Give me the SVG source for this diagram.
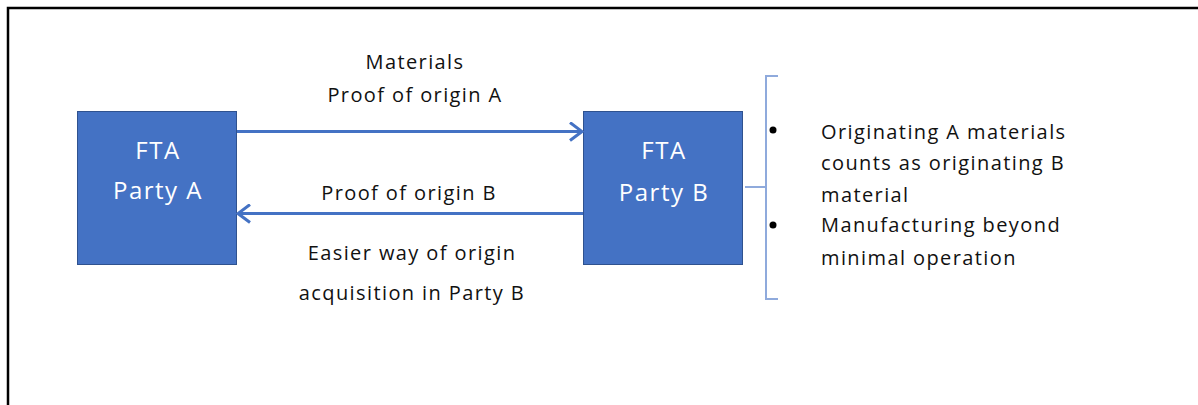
<svg xmlns="http://www.w3.org/2000/svg" width="1198" height="405" viewBox="0 0 1198 405">
  <defs>
    <style>
      .frame { fill: none; stroke: #000; stroke-width: 2.5; }
      .party rect { fill: #4472C4; stroke: #2F528F; stroke-width: 1; }
      .party text { fill: #fff; font-family: "Open Sans", "Liberation Sans", sans-serif; font-size: 24px; letter-spacing: 1.5px; text-anchor: middle; }
      .flow { fill: none; stroke: #4472C4; stroke-width: 3; }
      .brace { fill: none; stroke: #8FAADC; stroke-width: 2; }
      .label { fill: #111; font-family: "Open Sans", "Liberation Sans", sans-serif; font-size: 20px; letter-spacing: 1.4px; }
      .mid { text-anchor: middle; }
    </style>
    <marker id="chevron" viewBox="0 0 16 20" refX="14" refY="10" markerWidth="16" markerHeight="20" markerUnits="userSpaceOnUse" orient="auto">
      <path d="M2,1 L14,10 L2,19" fill="none" stroke="#4472C4" stroke-width="3"/>
    </marker>
  </defs>

  <rect width="1198" height="405" fill="#fff"/>
  <!-- open frame: top and left edges only -->
  <path class="frame" d="M8,405 V8 H1198"/>

  <g id="party-a" class="party">
    <rect x="77.5" y="111.5" width="159" height="153"/>
    <text x="158" y="159">FTA</text>
    <text x="158" y="199">Party A</text>
  </g>

  <g id="party-b" class="party">
    <rect x="583.5" y="111.5" width="159" height="153"/>
    <text x="664" y="159">FTA</text>
    <text x="664" y="201">Party B</text>
  </g>

  <g id="connectors">
    <line class="flow" x1="237" y1="131.5" x2="582" y2="131.5" marker-end="url(#chevron)"/>
    <line class="flow" x1="583" y1="213.5" x2="238" y2="213.5" marker-end="url(#chevron)"/>
    <path class="brace" d="M778,76 H766 V187 M745,187 H766 V299 H778"/>
  </g>

  <g id="flow-labels" class="label mid">
    <text x="415" y="69">Materials</text>
    <text x="415" y="102">Proof of origin A</text>
    <text x="409" y="200">Proof of origin B</text>
    <text x="412" y="260">Easier way of origin</text>
    <text x="412" y="300">acquisition in Party B</text>
  </g>

  <g id="notes" class="label">
    <circle cx="773" cy="130" r="3.5" fill="#000"/>
    <circle cx="773" cy="225" r="3.5" fill="#000"/>
    <text x="821" y="139">Originating A materials</text>
    <text x="821" y="170">counts as originating B</text>
    <text x="821" y="202">material</text>
    <text x="821" y="232">Manufacturing beyond</text>
    <text x="821" y="265">minimal operation</text>
  </g>
</svg>
